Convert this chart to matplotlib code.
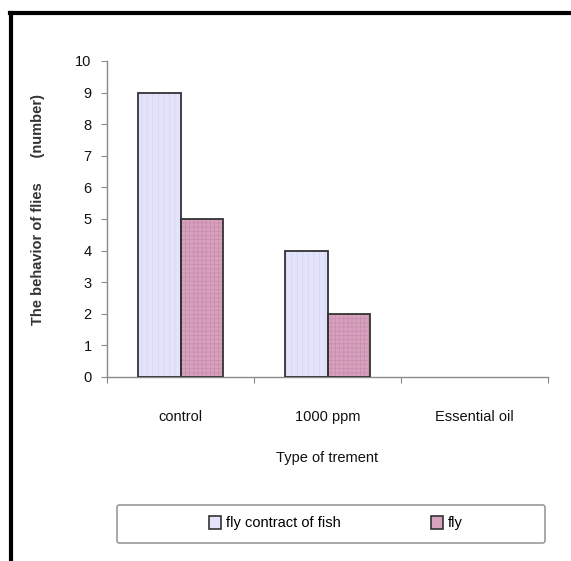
import numpy as np
import matplotlib
matplotlib.use('Agg')
import matplotlib.pyplot as plt
from matplotlib.patches import Patch, FancyBboxPatch
from matplotlib.lines import Line2D

categories = ['control', '1000 ppm', 'Essential oil']
fly_contract_of_fish = [9, 4, 0]
fly = [5, 2, 0]
series_names = ['fly contract of fish', 'fly']

plt.rcParams['font.family'] = ['Liberation Sans', 'DejaVu Sans']
plt.rcParams['hatch.linewidth'] = 0.6

light = '#E3E3FB'
pink = '#D6A2BE'
edge = '#333333'

fig = plt.figure(figsize=(5.71, 5.61), dpi=100)
ax = fig.add_axes([107 / 571, 1 - 377 / 561, 441 / 571, 316 / 561])

x = np.arange(len(categories))
w = 0.286


def outline(vals):
    # empty bars get no outline, as in the original
    return [1.3 if v > 0 else 0 for v in vals]


# fill with a faint texture, then draw the outline on top
ax.bar(x - w / 2, fly_contract_of_fish, w, color=light, edgecolor='#D8D8F4',
       hatch='|||', linewidth=0, zorder=2)
ax.bar(x + w / 2, fly, w, color=pink, edgecolor='#C98FAE',
       hatch='++++', linewidth=0, zorder=2)
ax.bar(x - w / 2, fly_contract_of_fish, w, fill=False, edgecolor=edge,
       linewidth=outline(fly_contract_of_fish), zorder=3)
ax.bar(x + w / 2, fly, w, fill=False, edgecolor=edge, linewidth=outline(fly), zorder=3)

ax.set_xlim(-0.5, 2.5)
ax.set_ylim(0, 10)
ax.set_yticks(range(0, 11))
for s in ['top', 'right']:
    ax.spines[s].set_visible(False)
for s in ['left', 'bottom']:
    ax.spines[s].set_color('#8a8a8a')
    ax.spines[s].set_linewidth(1.0)

ax.tick_params(axis='y', length=4, color='#8a8a8a', labelsize=10.5, pad=7, labelcolor='#111111')
ax.set_xticks([-0.5, 0.5, 1.5, 2.5])
ax.set_xticklabels([])
ax.tick_params(axis='x', which='major', length=4, color='#8a8a8a')
ax.set_xticks(x, minor=True)
ax.set_xticklabels(categories, minor=True)
ax.tick_params(axis='x', which='minor', length=0, pad=24, labelsize=10.5, labelcolor='#111111')

ax.set_xlabel('Type of trement', fontsize=10.5, color='#111111')
ax.xaxis.set_label_coords(0.5, -0.235)
ax.set_ylabel('The behavior of flies      (number)', fontsize=10.5, fontweight='bold', color='#333333')
ax.yaxis.set_label_coords(-0.14, 0.53)

# legend with its own wide frame
fig.patches.append(FancyBboxPatch((117 / 571, 1 - 543 / 561), 428 / 571, 38 / 561,
                                  boxstyle='round,pad=0,rounding_size=0.004',
                                  transform=fig.transFigure, facecolor='white',
                                  edgecolor='#9a9a9a', linewidth=1.2))
handles = [Patch(facecolor=light, edgecolor=edge, linewidth=1.2),
           Patch(facecolor=pink, edgecolor=edge, linewidth=1.2)]
fig.legend(handles, series_names, loc='center', bbox_to_anchor=(336 / 571, 1 - 523 / 561),
           ncol=2, frameon=False, fontsize=10.5, columnspacing=6.2,
           handlelength=0.8, handleheight=1.0, handletextpad=0.35)

# outer border (top and left only, as cropped in the reference)
fig.add_artist(Line2D([10 / 571, 1], [1 - 13 / 561, 1 - 13 / 561], color='black', lw=3,
                      transform=fig.transFigure))
fig.add_artist(Line2D([11 / 571, 11 / 571], [0, 1 - 13 / 561], color='black', lw=3,
                      transform=fig.transFigure))

fig.savefig('out.png', dpi=100)
